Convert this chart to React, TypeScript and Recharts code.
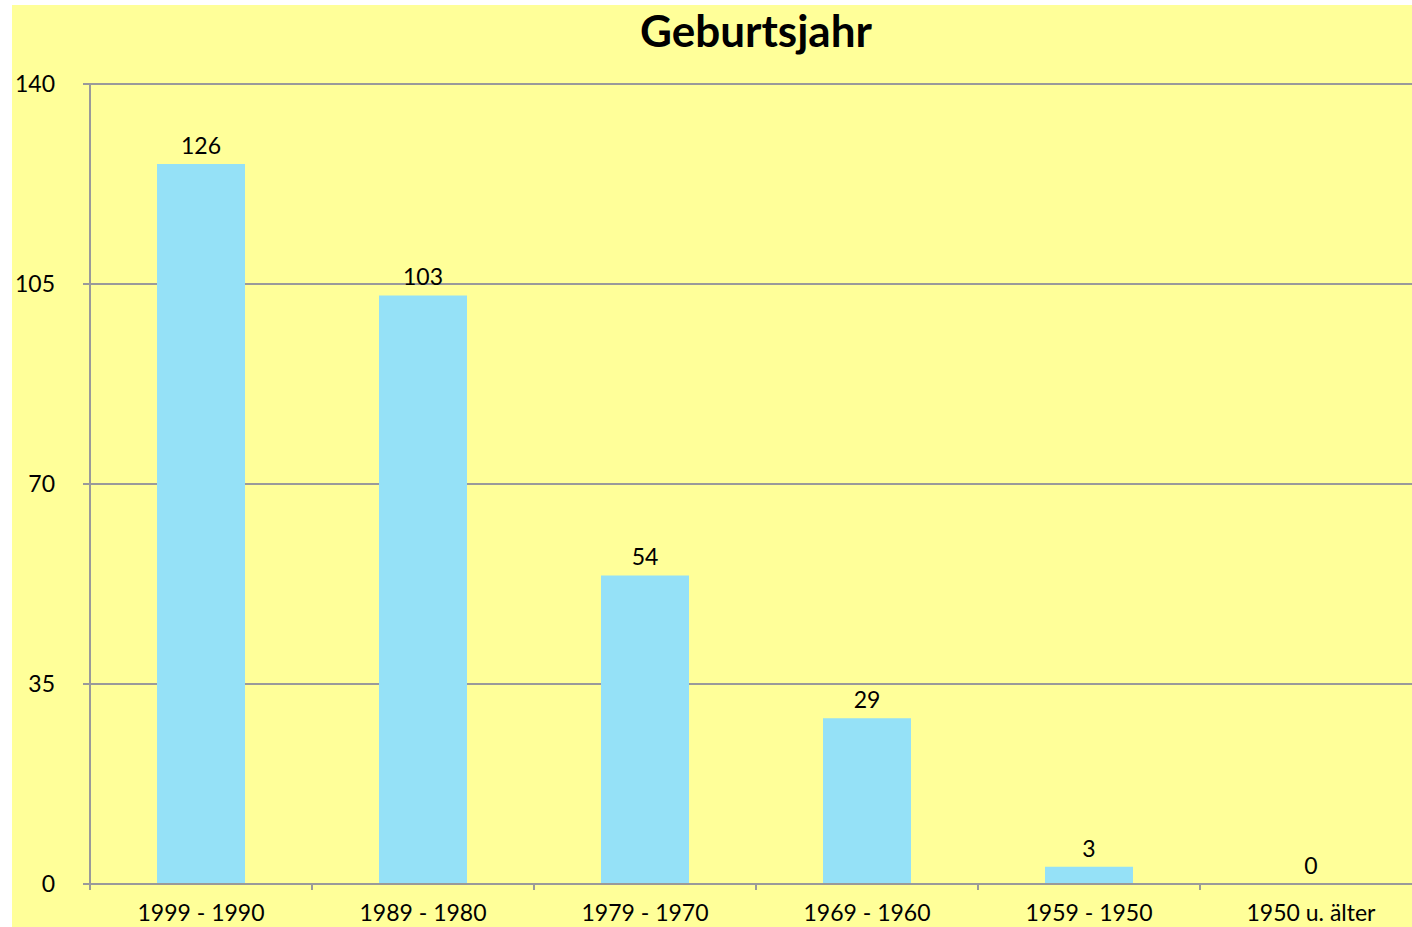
import React from 'react';
import { ComposedChart, Bar, Line, XAxis, YAxis, CartesianGrid, LabelList } from 'recharts';

const categories = ['1999 - 1990', '1989 - 1980', '1979 - 1970', '1969 - 1960', '1959 - 1950', '1950 u. älter'];
const counts = [126, 103, 54, 29, 3, 0];
const yTicks = [0, 35, 70, 105, 140];

const data = categories.map((name, i) => ({ name, value: counts[i] }));

const FONT = 'Lato, "Open Sans", sans-serif';
const GRAY = '#9a9a9a';

// category ticks: label in the middle, tick mark on the left boundary of each band
const CatTick = (props: any) => {
  const { x, y, payload, index, visibleTicksCount } = props;
  const half = payload && payload.offset ? payload.offset : 111;
  const last = index === visibleTicksCount - 1;
  return (
    <g>
      <line x1={x - half} y1={y} x2={x - half} y2={y + 6} stroke={GRAY} strokeWidth={2} />
      {last && <line x1={x + half} y1={y} x2={x + half} y2={y + 6} stroke={GRAY} strokeWidth={2} />}
      <text x={x} y={y + 21} dy="0.71em" textAnchor="middle" fill="#000" fontSize={23} fontFamily={FONT}>
        {payload.value}
      </text>
    </g>
  );
};

const App: React.FC = () => {
  return (
    <>
      <style>{'body{margin:0;overflow:hidden;}'}</style>
      <div style={{ marginLeft: 12, marginTop: 5, width: 1410, height: 922, background: '#ffff99', position: 'relative' }}>
        <div
          style={{
            position: 'absolute',
            left: 78,
            width: 1332,
            top: 0,
            textAlign: 'center',
            fontFamily: FONT,
            fontWeight: 700,
            fontSize: 44,
            lineHeight: '50px',
            color: '#000',
          }}
        >
          Geburtsjahr
        </div>
        <ComposedChart width={1410} height={922} data={data} margin={{ top: 79, right: 0, bottom: 0, left: 0 }}>
          <CartesianGrid vertical={false} stroke={GRAY} strokeWidth={2} />
          <XAxis
            dataKey="name"
            height={43}
            axisLine={{ stroke: GRAY, strokeWidth: 2 }}
            tickLine={false}
            tickSize={0}
            tickMargin={0}
            interval={0}
            tick={<CatTick />}
          />
          <YAxis
            width={78}
            domain={[0, 140]}
            ticks={yTicks}
            interval={0}
            axisLine={{ stroke: GRAY, strokeWidth: 2 }}
            tickLine={{ stroke: GRAY, strokeWidth: 2 }}
            tickSize={7}
            tickMargin={28}
            tick={{ fill: '#000', fontSize: 23, fontFamily: FONT }}
          />
          <Bar dataKey="value" fill="#95e1f7" barSize={88} isAnimationActive={false} />
          {/* invisible line only carries the value labels, so the 0 gets one too */}
          <Line dataKey="value" stroke="none" dot={false} activeDot={false} isAnimationActive={false}>
            <LabelList dataKey="value" position="top" offset={10} fill="#000" fontSize={23} fontFamily={FONT} />
          </Line>
        </ComposedChart>
      </div>
    </>
  );
};

export default App;
